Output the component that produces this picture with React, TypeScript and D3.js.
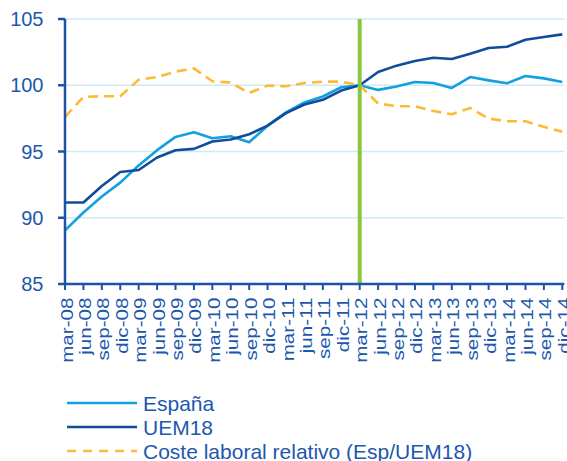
import React from "react";
import * as d3 from "d3";

const categories = [
  "mar-08","jun-08","sep-08","dic-08",
  "mar-09","jun-09","sep-09","dic-09",
  "mar-10","jun-10","sep-10","dic-10",
  "mar-11","jun-11","sep-11","dic-11",
  "mar-12","jun-12","sep-12","dic-12",
  "mar-13","jun-13","sep-13","dic-13",
  "mar-14","jun-14","sep-14","dic-14",
];

const espana = [
  89.05, 90.4, 91.6, 92.65, 93.95, 95.1, 96.1, 96.45,
  96.0, 96.15, 95.7, 96.95, 97.95, 98.7, 99.15, 99.85,
  100.0, 99.65, 99.9, 100.25, 100.17, 99.8, 100.62, 100.37,
  100.15, 100.7, 100.52, 100.25,
];

const uem18 = [
  91.15, 91.15, 92.4, 93.45, 93.6, 94.55, 95.1, 95.2,
  95.75, 95.9, 96.3, 96.95, 97.9, 98.55, 98.9, 99.6,
  100.0, 101.0, 101.48, 101.83, 102.08, 101.98, 102.38, 102.81,
  102.91, 103.44, 103.64, 103.84,
];

const coste = [
  97.6, 99.12, 99.17, 99.17, 100.42, 100.62, 101.03, 101.27,
  100.3, 100.2, 99.42, 99.97, 99.92, 100.17, 100.27, 100.27,
  100.0, 98.62, 98.42, 98.42, 98.06, 97.81, 98.29, 97.49,
  97.28, 97.28, 96.86, 96.5,
];

const yTicks = [85, 90, 95, 100, 105];
const markerCategory = "mar-12";

const seriesList = [
  { name: "España", values: espana, color: "#149fde", dash: "" },
  { name: "UEM18", values: uem18, color: "#0f4c9c", dash: "" },
  { name: "Coste laboral relativo (Esp/UEM18)", values: coste, color: "#fdbb35", dash: "10,6" },
];

const W = 567;
const H = 461;
const left = 65;
const right = 562.3;
const top = 19;
const bottom = 284;

const textColor = "#1c58ad";
const axisColor = "#1a55a8";
const gridColor = "#cfe9f7";
const font = "'Liberation Sans', Arial, sans-serif";

export default function App() {
  const x = d3
    .scalePoint<string>()
    .domain(categories)
    .range([left, right]);
  const y = d3.scaleLinear().domain([85, 105]).range([bottom, top]);

  const line = d3
    .line<number>()
    .x((_, i) => x(categories[i]) as number)
    .y((d) => y(d));

  const mx = x(markerCategory) as number;

  return (
    <svg
      width={W}
      height={H}
      style={{ position: "absolute", left: 0, top: 0, background: "#fff" }}
      fontFamily={font}
    >
      {yTicks
        .filter((t) => t !== 85)
        .map((t) => (
          <line
            key={"g" + t}
            x1={left}
            x2={right + 2}
            y1={y(t)}
            y2={y(t)}
            stroke={gridColor}
            strokeWidth={1.5}
          />
        ))}

      {yTicks.map((t) => (
        <g key={"y" + t}>
          <line x1={left - 7} x2={left} y1={y(t)} y2={y(t)} stroke={axisColor} strokeWidth={2.5} />
          <text
            x={43.5}
            y={y(t) + 7}
            textAnchor="end"
            fontSize={20}
            fill={textColor}
          >
            {t}
          </text>
        </g>
      ))}

      {categories.map((c) => {
        const cx = x(c) as number;
        return (
          <g key={"x" + c}>
            <line x1={cx} x2={cx} y1={bottom} y2={bottom + 6} stroke={axisColor} strokeWidth={2} />
            <text
              transform={`translate(${cx + 7.5},${297.5}) rotate(-90) scale(1.29,1)`}
              textAnchor="end"
              fontSize={16}
              fill={textColor}
            >
              {c}
            </text>
          </g>
        );
      })}

      {seriesList.map((s) => (
        <path
          key={s.name}
          d={line(s.values) || ""}
          fill="none"
          stroke={s.color}
          strokeWidth={2.6}
          strokeDasharray={s.dash || undefined}
          strokeLinejoin="round"
        />
      ))}

      <line x1={mx} x2={mx} y1={top} y2={bottom} stroke="#8cc63f" strokeWidth={4} />

      <line x1={left} x2={left} y1={top} y2={bottom} stroke={axisColor} strokeWidth={2.5} />
      <line x1={left} x2={right + 2} y1={bottom} y2={bottom} stroke={axisColor} strokeWidth={2.5} />

      {seriesList.map((s, i) => {
        const ly = 403 + i * 24;
        return (
          <g key={"l" + s.name}>
            <line
              x1={67}
              x2={137}
              y1={ly}
              y2={ly}
              stroke={s.color}
              strokeWidth={2.6}
              strokeDasharray={s.dash ? "9,7" : undefined}
            />
            <text x={143} y={ly + 7.5} fontSize={21} fill={textColor}>
              {s.name}
            </text>
          </g>
        );
      })}
    </svg>
  );
}
